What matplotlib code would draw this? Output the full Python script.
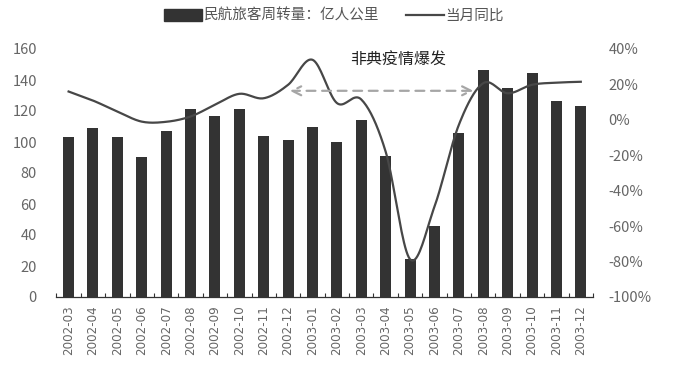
import numpy as np
import matplotlib
matplotlib.use("Agg")
import matplotlib.pyplot as plt
from matplotlib.patches import Rectangle
from matplotlib.lines import Line2D

plt.rcParams['font.family'] = ['Liberation Sans Narrow', 'Noto Sans CJK SC', 'DejaVu Sans']

months = ["2002-03", "2002-04", "2002-05", "2002-06", "2002-07", "2002-08", "2002-09",
          "2002-10", "2002-11", "2002-12", "2003-01", "2003-02", "2003-03", "2003-04",
          "2003-05", "2003-06", "2003-07", "2003-08", "2003-09", "2003-10", "2003-11", "2003-12"]
volume = [103, 109, 103.5, 90.5, 107, 121.5, 117, 121, 104, 101.5, 110, 100,
          114, 91, 24.5, 46, 106, 146.5, 135, 144.5, 126.5, 123.5]
yoy = [16, 10.9, 4.7, -1.0, -1.1, 1.9, 8.5, 14.7, 12.2, 19.8, 33.9, 9.5,
       11.5, -18, -78.7, -49, -2.8, 20.7, 15, 19.8, 21, 21.5]
left_ticks = [0, 20, 40, 60, 80, 100, 120, 140, 160]
right_ticks = [-100, -80, -60, -40, -20, 0, 20, 40]

bar_color = '#333333'
line_color = '#474747'
tick_color = '#666666'

fig = plt.figure(figsize=(6.73, 3.65), dpi=100)
ax = fig.add_axes([56.4/673, 1-297/365, (593-56.4)/673, (297-49)/365])
x = np.arange(len(months))
ax.bar(x, volume, width=0.45, color=bar_color, zorder=2)
ax.set_xlim(-0.5, len(months)-0.5)
ax.set_ylim(0, 160)
ax.set_yticks(left_ticks)
ax.set_yticklabels([str(t) for t in left_ticks])
ax.set_xticks(x)
ax.set_xticklabels(months, rotation=90, family=['DejaVu Sans'], fontsize=8.6, color=tick_color)
ax.set_xticks(np.arange(len(months)+1)-0.5, minor=True)
ax.tick_params(axis='x', which='major', length=0, pad=6)
ax.tick_params(axis='x', which='minor', length=3, direction='in', color='#333333', width=0.8)
ax.tick_params(axis='y', length=0, pad=14, labelsize=10.5, labelcolor=tick_color)
for s in ['top', 'right', 'left']:
    ax.spines[s].set_visible(False)
ax.spines['bottom'].set_color('#333333')
ax.spines['bottom'].set_linewidth(0.9)

ax2 = ax.twinx()
ax2.set_ylim(-100, 40)
ax2.set_yticks(right_ticks)
ax2.set_yticklabels([f"{t}%" for t in right_ticks])
ax2.tick_params(axis='y', length=0, pad=11, labelsize=10.5, labelcolor=tick_color)
for s in ['top', 'right', 'left', 'bottom']:
    ax2.spines[s].set_visible(False)

# smooth line (Catmull-Rom through the data points)
def catmull_rom(xs, ys, n=20):
    xs = np.asarray(xs, float); ys = np.asarray(ys, float)
    px = np.concatenate([[2*xs[0]-xs[1]], xs, [2*xs[-1]-xs[-2]]])
    py = np.concatenate([[2*ys[0]-ys[1]], ys, [2*ys[-1]-ys[-2]]])
    outx, outy = [], []
    for i in range(1, len(px)-2):
        t = np.linspace(0, 1, n, endpoint=False)
        for arr, out in ((px, outx), (py, outy)):
            p0, p1, p2, p3 = arr[i-1], arr[i], arr[i+1], arr[i+2]
            out.extend(0.5*((2*p1) + (-p0+p2)*t + (2*p0-5*p1+4*p2-p3)*t**2 + (-p0+3*p1-3*p2+p3)*t**3))
    outx.append(xs[-1]); outy.append(ys[-1])
    return np.array(outx), np.array(outy)

sx, sy = catmull_rom(x, yoy)
ax2.plot(sx, sy, color=line_color, lw=1.6, zorder=3)

# annotation
ax2.annotate('', xy=(9.07, 16.4), xytext=(16.6, 16.4),
             arrowprops=dict(arrowstyle='<->', color='#a6a6a6', lw=1.6, ls=(0, (4, 3)),
                             mutation_scale=16, shrinkA=0, shrinkB=0))
ax2.text(13.5, 33.5, '非典疫情爆发', ha='center', va='center', fontsize=11.5,
         family=['Noto Sans CJK SC'], color='#222222')

handles = [Rectangle((0, 0), 1, 1, color=bar_color), Line2D([], [], color=line_color, lw=1.6)]
fig.legend(handles, ['民航旅客周转量：亿人公里', '当月同比'], loc='center', bbox_to_anchor=(334/673, 1-16/365),
           ncol=2, frameon=False, fontsize=10.5, handlelength=2.6, handleheight=0.8,
           columnspacing=1.8, handletextpad=0.15, prop={'family': ['Noto Sans CJK SC'], 'size': 10.5},
           labelcolor='#555555')

fig.savefig('out.png', dpi=100)
